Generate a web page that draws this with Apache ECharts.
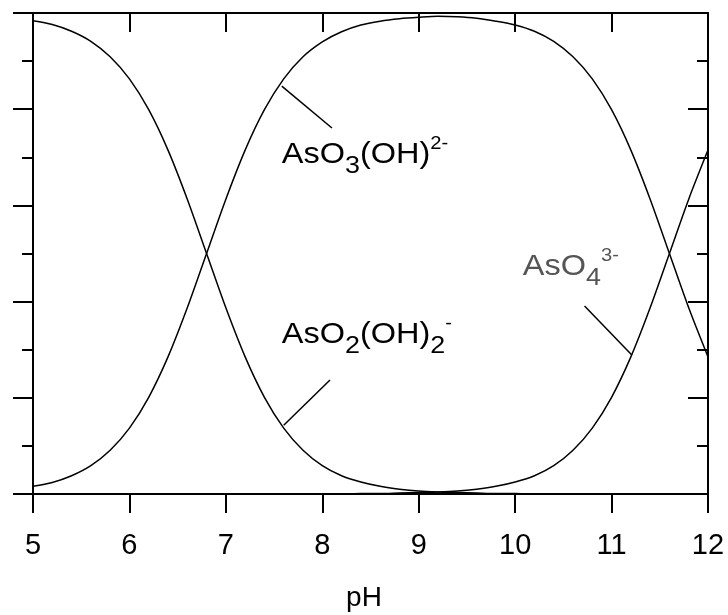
<!DOCTYPE html>
<html><head><meta charset="utf-8">
<script src="https://cdn.jsdelivr.net/npm/echarts@6/dist/echarts.min.js"></script>
<style>html,body{margin:0;padding:0;background:#fff}#c{width:728px;height:615px}</style>
</head><body><div id="c"></div>
<script>
// ---- data ----
const pH = [5.0,5.2,5.4,5.6,5.8,6.0,6.2,6.4,6.6,6.8,7.0,7.2,7.4,7.6,7.8,8.0,8.2,8.4,8.6,8.8,9.0,9.2,9.4,9.6,9.8,10.0,10.2,10.4,10.6,10.8,11.0,11.2,11.4,11.6,11.8,12.0];
const AsO2OH2 = [0.984,0.976,0.962,0.941,0.909,0.863,0.799,0.715,0.613,0.500,0.387,0.285,0.201,0.137,0.091,0.059,0.038,0.025,0.016,0.010,0.006,0.004,0.003,0.002,0.001,0.001,0,0,0,0,0,0,0,0,0,0];
const AsO3OH = [0.016,0.024,0.038,0.059,0.091,0.137,0.201,0.285,0.387,0.500,0.613,0.715,0.799,0.863,0.909,0.940,0.961,0.975,0.983,0.988,0.991,0.993,0.992,0.989,0.983,0.975,0.962,0.941,0.909,0.863,0.799,0.715,0.613,0.500,0.387,0.285];
const AsO4 = [0,0,0,0,0,0,0,0,0,0,0,0,0,0,0,0,0,0.001,0.001,0.002,0.003,0.004,0.006,0.010,0.016,0.025,0.038,0.059,0.091,0.137,0.201,0.285,0.387,0.500,0.613,0.715];
const xTickLabels = ['5','6','7','8','9','10','11','12'];
const xName = 'pH';

// annotation leader lines [from, to] in data coords
const leader1 = [[7.58,0.848],[8.10,0.761]];
const leader2 = [[7.60,0.143],[8.08,0.237]];
const leader3 = [[10.72,0.391],[11.21,0.289]];
// label anchors (baseline-left) and parts
const labels = [
  {at:[7.58,0.684], color:'#000', parts:[['m','AsO'],['b','3'],['m','(OH)'],['p','2-']]},
  {at:[7.58,0.310], color:'#000', parts:[['m','AsO'],['b','2'],['m','(OH)'],['b','2'],['p','-']]},
  {at:[10.08,0.451], color:'#555', parts:[['m','AsO'],['b','4'],['p','3-']]}
];

const FONT = 'Liberation Sans';
const chart = echarts.init(document.getElementById('c'));
const pairs = arr => pH.map((x,i)=>[x,arr[i]]);
const lineStyle = {color:'#000', width:1.5};
const axLine = {show:true, onZero:false, lineStyle:{color:'#000', width:2}};
const tickStyle = {color:'#000', width:2};

function lineSeries(name, arr, marks){
  return {
    type:'line', name, data:pairs(arr), showSymbol:false, symbol:'none', smooth:0.3,
    lineStyle, color:'#000', silent:true, clip:true,
    markLine: marks ? {silent:true, symbol:['none','none'], label:{show:false},
      lineStyle:{color:'#000', width:1.5, type:'solid'},
      data: marks.map(m=>[{coord:m[0]},{coord:m[1]}])} : undefined
  };
}

chart.setOption({
  animation:false,
  backgroundColor:'#fff',
  grid:{left:33, right:20, top:13, bottom:121, outerBoundsMode:'none', containLabel:false},
  xAxis:[
    {type:'value', position:'bottom', min:5, max:12, interval:1,
     name:xName, nameLocation:'middle', nameGap:90,
     nameTextStyle:{fontSize:28, color:'#000', fontFamily:FONT, padding:[0,13,0,0]},
     axisLine:axLine, axisTick:{show:true, length:19, lineStyle:tickStyle},
     axisLabel:{show:true, fontSize:29, color:'#000', fontFamily:FONT, margin:37,
       formatter:v=>xTickLabels[Math.round(v-5)]},
     splitLine:{show:false}},
    {type:'value', position:'top', min:5, max:12, interval:1,
     axisLine:axLine, axisTick:{show:true, inside:true, length:19, lineStyle:tickStyle},
     axisLabel:{show:false}, splitLine:{show:false}}
  ],
  yAxis:[
    {type:'value', position:'left', min:0, max:1, interval:0.2,
     axisLine:axLine, axisTick:{show:true, length:20, lineStyle:tickStyle},
     minorTick:{show:true, splitNumber:2, length:11, lineStyle:tickStyle},
     axisLabel:{show:false}, splitLine:{show:false}},
    {type:'value', position:'right', min:0, max:1, interval:0.2,
     axisLine:axLine, axisTick:{show:true, inside:true, length:20, lineStyle:tickStyle},
     minorTick:{show:true, splitNumber:2, length:11, lineStyle:tickStyle},
     axisLabel:{show:false}, splitLine:{show:false}}
  ],
  series:[
    lineSeries('AsO2(OH)2-', AsO2OH2, [leader2]),
    lineSeries('AsO3(OH)2-', AsO3OH, [leader1]),
    lineSeries('AsO4 3-', AsO4, [leader3])
  ]
});

// ---- formula labels ----
const ctx = document.createElement('canvas').getContext('2d');
const SIZES = {m:29, b:24, p:18};
const DY = {m:0, b:10, p:-15};
function measure(t, s){ ctx.font = s+'px "'+FONT+'"'; return ctx.measureText(t).width; }
const graphics = labels.map(L=>{
  const px = chart.convertToPixel({gridIndex:0}, L.at);
  let x = 0;
  const children = L.parts.map(([k,t])=>{
    const s = SIZES[k];
    const el = {type:'text', x:x, y:DY[k] - 0.35*s,
      style:{text:t, fontSize:s, fontFamily:FONT, fill:L.color, align:'left', verticalAlign:'middle'}};
    x += measure(t,s);
    return el;
  });
  return {type:'group', x:px[0], y:px[1], scaleX:1.12, silent:true, children};
});
chart.setOption({graphic:graphics});
</script>
</body></html>
